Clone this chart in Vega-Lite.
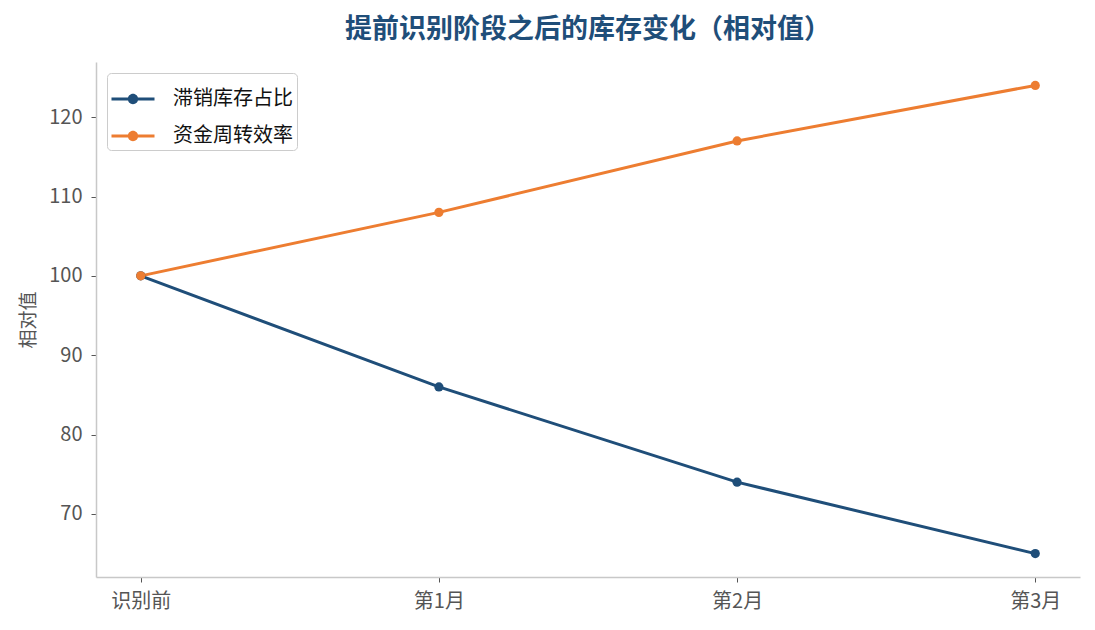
{
  "$schema": "https://vega.github.io/schema/vega-lite/v6.json",
  "width": 984,
  "height": 515,
  "autosize": {"type": "none"},
  "padding": {"left": 96, "top": 62, "right": 15, "bottom": 53},
  "background": "white",
  "config": {
    "font": "Noto Sans CJK SC",
    "view": {"stroke": null}
  },
  "title": {
    "text": "提前识别阶段之后的库存变化（相对值）",
    "fontSize": 27,
    "fontWeight": "bold",
    "color": "#1f4e79",
    "anchor": "middle",
    "offset": 18
  },
  "data": {
    "values": [
      {"stage": "识别前", "series": "滞销库存占比", "value": 100},
      {"stage": "第1月", "series": "滞销库存占比", "value": 86},
      {"stage": "第2月", "series": "滞销库存占比", "value": 74},
      {"stage": "第3月", "series": "滞销库存占比", "value": 65},
      {"stage": "识别前", "series": "资金周转效率", "value": 100},
      {"stage": "第1月", "series": "资金周转效率", "value": 108},
      {"stage": "第2月", "series": "资金周转效率", "value": 117},
      {"stage": "第3月", "series": "资金周转效率", "value": 124}
    ]
  },
  "mark": {"type": "line", "strokeWidth": 3, "point": {"filled": true, "size": 85, "opacity": 1}},
  "encoding": {
    "x": {
      "field": "stage",
      "type": "ordinal",
      "sort": ["识别前", "第1月", "第2月", "第3月"],
      "scale": {"type": "point", "padding": 0.15},
      "axis": {
        "title": null,
        "labelAngle": 0,
        "labelFontSize": 20,
        "labelColor": "#555555",
        "labelPadding": 9,
        "domainColor": "#c8c8c8",
        "domainWidth": 1.5,
        "tickColor": "#555555",
        "tickSize": 5,
        "grid": false
      }
    },
    "y": {
      "field": "value",
      "type": "quantitative",
      "scale": {"domain": [62.05, 126.95], "nice": false, "zero": false},
      "axis": {
        "title": "相对值",
        "titleFontSize": 19,
        "titleFontWeight": "normal",
        "titleColor": "#555555",
        "titlePadding": 10,
        "values": [70, 80, 90, 100, 110, 120],
        "labelFontSize": 20,
        "labelColor": "#555555",
        "labelPadding": 9,
        "domainColor": "#c8c8c8",
        "domainWidth": 1.5,
        "tickColor": "#555555",
        "tickSize": 5,
        "grid": false
      }
    },
    "color": {
      "field": "series",
      "type": "nominal",
      "sort": ["滞销库存占比", "资金周转效率"],
      "scale": {"range": ["#1f4e79", "#ed7d31"]},
      "legend": {
        "title": null,
        "orient": "top-left",
        "offset": 11,
        "padding": 4,
        "fillColor": "white",
        "strokeColor": "#cccccc",
        "cornerRadius": 4,
        "labelFontSize": 20,
        "labelColor": "#111111",
        "rowPadding": 5,
        "labelOffset": 18,
        "symbolType": "M-1,-0.07H1V0.07H-1Z M0.24,0 A0.24,0.24 0 1,1 -0.24,0 A0.24,0.24 0 1,1 0.24,0Z",
        "symbolSize": 1850,
        "symbolStrokeWidth": 0,
        "encode": {
          "symbols": {"update": {"fill": {"scale": "color", "field": "value"}, "strokeWidth": {"value": 0}}}
        }
      }
    }
  }
}
